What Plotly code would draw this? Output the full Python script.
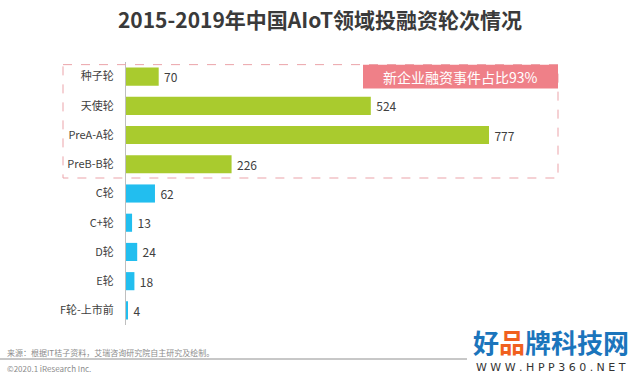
import plotly.graph_objects as go

categories = ["种子轮", "天使轮", "PreA-A轮", "PreB-B轮", "C轮", "C+轮", "D轮", "E轮", "F轮-上市前"]
values = [70, 524, 777, 226, 62, 13, 24, 18, 4]
bar_colors = ["#A9CB2E"] * 4 + ["#22BEEF"] * 5

title_text = "2015-2019年中国AIoT领域投融资轮次情况"
box_label = "新企业融资事件占比93%"
source_text = "来源：根据IT桔子资料，艾瑞咨询研究院自主研究及绘制。"
copyright_text = "©2020.1 iResearch Inc."

W, H = 640, 379
ML, MR, MT, MB = 126, 94, 62, 54
PW = W - ML - MR
PH = H - MT - MB


def px(x):
    return (x - ML) / PW


def py(y):
    return (H - MB - y) / PH


FONT = "Noto Sans CJK SC, Microsoft YaHei, sans-serif"

fig = go.Figure()
fig.add_trace(go.Bar(
    x=values, y=categories, orientation="h",
    marker=dict(color=bar_colors, line=dict(width=0)),
    text=["\u2009" + str(v) for v in values], textposition="outside",
    textfont=dict(size=12, color="#404040", family=FONT),
    cliponaxis=False, width=0.62,
))

fig.update_layout(
    width=W, height=H,
    margin=dict(l=ML, r=MR, t=MT, b=MB, pad=0),
    paper_bgcolor="white", plot_bgcolor="white",
    showlegend=False,
    font=dict(family=FONT, color="#404040"),
    title=dict(text="<b>" + title_text + "</b>", x=0.5, xanchor="center",
               y=1 - 21 / H, yanchor="middle",
               font=dict(size=21, color="#3A3A3A", family=FONT)),
    xaxis=dict(range=[0, 899], visible=False, fixedrange=True),
    yaxis=dict(autorange="reversed", showgrid=False, zeroline=False,
               showline=True, linecolor="#BFBFBF", linewidth=1,
               ticks="", ticklabelstandoff=9,
               tickfont=dict(size=11, color="#404040", family=FONT)),
)

# dashed highlight box
fig.add_shape(type="rect", xref="paper", yref="y",
              x0=px(63), x1=px(558), y0=-0.41, y1=3.47,
              line=dict(color="#EBA3A9", width=1, dash="dash"),
              fillcolor="rgba(0,0,0,0)", layer="above")
# pink label box
fig.add_shape(type="rect", xref="paper", yref="y",
              x0=px(363), x1=px(558), y0=-0.41, y1=0.41,
              line=dict(width=0), fillcolor="#EF8088", layer="above")
fig.add_annotation(xref="paper", yref="y", x=(px(363) + px(558)) / 2, y=0,
                   xanchor="center", yanchor="middle",
                   text=box_label, showarrow=False,
                   font=dict(size=14, color="white", family=FONT))

# source line and texts
fig.add_shape(type="line", xref="paper", yref="paper",
              x0=px(0), x1=px(467), y0=py(359), y1=py(359),
              line=dict(color="#909090", width=1))
fig.add_annotation(xref="paper", yref="paper", x=px(5), y=py(352),
                   xanchor="left", yanchor="middle", showarrow=False,
                   text=source_text, font=dict(size=8, color="#8C8C8C", family=FONT))
fig.add_annotation(xref="paper", yref="paper", x=px(5), y=py(368),
                   xanchor="left", yanchor="middle", showarrow=False,
                   text=copyright_text, font=dict(size=8, color="#8C8C8C", family=FONT))

# watermark
fig.add_annotation(xref="paper", yref="paper", x=px(551), y=py(341),
                   xanchor="center", yanchor="middle", showarrow=False,
                   text="<b>好<span style='color:#F0601E'>品</span>牌科技网</b>",
                   font=dict(size=26, color="#1B75BC", family=FONT))
fig.add_annotation(xref="paper", yref="paper", x=px(551), y=py(367),
                   xanchor="center", yanchor="middle", showarrow=False,
                   text="W W W . H P P 3 6 0 . N E T",
                   font=dict(size=11, color="#333333", family="DejaVu Sans"))

fig.write_html("out.html", config={"displayModeBar": False},
               post_script="document.body.style.margin='0';")
